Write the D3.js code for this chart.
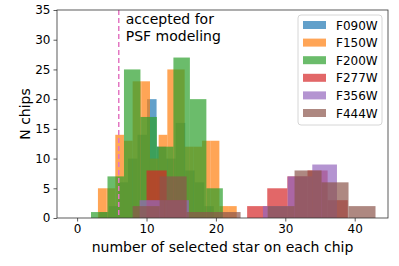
<!DOCTYPE html>
<html>
<head>
<meta charset="utf-8">
<title>selected stars per chip</title>
<style>
  body { margin: 0; background: #fff; }
  svg text { font-family: "DejaVu Sans", sans-serif; fill: #000; }
</style>
</head>
<body>
<script src="https://cdn.jsdelivr.net/npm/d3@7"></script>
<script>
// histogram data, one series per filter (drawn in this order)
var filters  = ["F090W", "F150W", "F200W", "F277W", "F356W", "F444W"];
var colors   = ["#1f77b4", "#ff7f0e", "#2ca02c", "#d62728", "#9467bd", "#8c564b"];
var binStart = [3.2, 3, 2, 10, 9, 8];
var binEnd   = [19.7, 23, 21, 39, 41, 43];
var countsF090W = [1, 2, 6, 10, 14, 20, 12, 10, 16, 8, 6, 2];
var countsF150W = [5, 5, 14, 13, 23, 23, 10, 14, 25, 25, 12, 12, 13, 13, 2, 2];
var countsF200W = [1, 7, 25, 17, 12, 27, 20, 5];
var countsF277W = [8, 3, 0, 0, 0, 2, 5, 7, 8, 3];
var countsF356W = [3, 3, 0, 0, 0, 2, 7, 9, 0];
var countsF444W = [2, 7, 1, 1, 0, 2, 8, 6, 2];
var allCounts = [countsF090W, countsF150W, countsF200W, countsF277W, countsF356W, countsF444W];

var xTicks = [0, 10, 20, 30, 40];
var yTicks = [0, 5, 10, 15, 20, 25, 30, 35];
var cutValue = 6;

var W = 399, H = 266;
var margin = {top: 10, right: 11, bottom: 48, left: 57};
var width = W - margin.left - margin.right,
    height = H - margin.top - margin.bottom;

var x = d3.scaleLinear().domain([-2.9, 44.8]).range([0, width]);
var y = d3.scaleLinear().domain([0, 35]).range([height, 0]);

var svg = d3.select("body").append("svg")
    .attr("width", W).attr("height", H);

var chart = svg.append("g")
    .attr("transform", "translate(" + margin.left + "," + margin.top + ")");

// bars
filters.forEach(function(f, i) {
    var counts = allCounts[i];
    var bw = (binEnd[i] - binStart[i]) / counts.length;
    var bins = counts.map(function(c, k) {
        return {x0: binStart[i] + k * bw, x1: binStart[i] + (k + 1) * bw, n: c};
    }).filter(function(d) { return d.n > 0; });
    chart.append("g").selectAll("rect")
        .data(bins)
        .enter().append("rect")
        .attr("x", function(d) { return x(d.x0); })
        .attr("width", function(d) { return x(d.x1) - x(d.x0); })
        .attr("y", function(d) { return y(d.n); })
        .attr("height", function(d) { return y(0) - y(d.n); })
        .style("fill", colors[i])
        .style("fill-opacity", 0.7);
});

// cut line
chart.append("line")
    .attr("x1", x(cutValue)).attr("x2", x(cutValue))
    .attr("y1", 0).attr("y2", height)
    .style("stroke", "#e377c2")
    .style("stroke-width", 1.5)
    .style("stroke-dasharray", "5,3");

chart.append("text")
    .attr("x", x(cutValue) + 7).attr("y", 14)
    .style("font-size", "14px")
    .text("accepted for");
chart.append("text")
    .attr("x", x(cutValue) + 7).attr("y", 30.5)
    .style("font-size", "14px")
    .text("PSF modeling");

// axes
var xAxis = chart.append("g")
    .attr("transform", "translate(0," + height + ")")
    .call(d3.axisBottom(x).tickValues(xTicks).tickSize(3.5).tickPadding(3));
var yAxis = chart.append("g")
    .call(d3.axisLeft(y).tickValues(yTicks).tickSize(3.5).tickPadding(3));
[xAxis, yAxis].forEach(function(a) {
    a.select(".domain").remove();
    a.selectAll("line").style("stroke", "#333").style("stroke-width", 0.8);
    a.selectAll("text").style("font-size", "12px").style("font-family", "DejaVu Sans");
});

// frame
chart.append("rect")
    .attr("width", width).attr("height", height)
    .style("fill", "none").style("stroke", "#333").style("stroke-width", 0.8);

svg.append("text")
    .attr("x", margin.left + width / 2).attr("y", 252)
    .style("text-anchor", "middle")
    .style("font-size", "14px")
    .text("number of selected star on each chip");

svg.append("text")
    .attr("transform", "translate(30," + (margin.top + height / 2) + ") rotate(-90)")
    .style("text-anchor", "middle")
    .style("font-size", "14px")
    .text("N chips");

// legend
var legend = svg.append("g").attr("transform", "translate(298,15)");
legend.append("rect")
    .attr("width", 84).attr("height", 110)
    .attr("rx", 3)
    .style("fill", "#fff").style("fill-opacity", 0.8)
    .style("stroke", "#ccc").style("stroke-width", 0.8);
filters.forEach(function(f, i) {
    var row = legend.append("g").attr("transform", "translate(0," + (10 + i * 17.6) + ")");
    row.append("rect")
        .attr("x", 5).attr("y", -4).attr("width", 23).attr("height", 8)
        .style("fill", colors[i]).style("fill-opacity", 0.7);
    row.append("text")
        .attr("x", 38).attr("y", 4.5)
        .style("font-size", "12px")
        .text(f);
});
</script>
</body>
</html>
